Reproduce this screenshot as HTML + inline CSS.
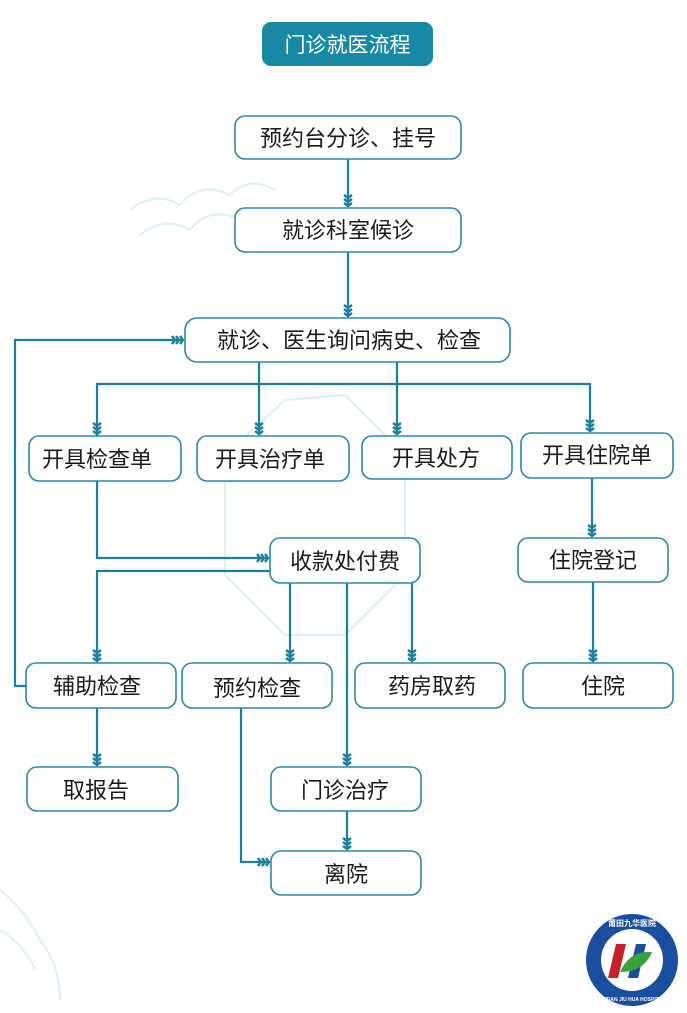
<!DOCTYPE html>
<html><head><meta charset="utf-8"><style>
html,body{margin:0;padding:0;background:#fff;}
body{width:687px;height:1013px;overflow:hidden;position:relative;}
svg{position:absolute;left:0;top:0;}
text{font-family:"Liberation Sans","Noto Sans CJK SC",sans-serif;}
</style></head><body>
<svg width="687" height="1013" viewBox="0 0 687 1013" xmlns="http://www.w3.org/2000/svg">
<defs>
<g id="ad"><path d="M-4,-9 L0,-6 L4,-9 M-4,-5 L0,-2 L4,-5 M-4,-1 L0,2 L4,-1" fill="none" stroke="#1b7f9c" stroke-width="2.4"/></g>
<g id="ar"><path d="M-9,-4 L-6,0 L-9,4 M-5,-4 L-2,0 L-5,4 M-1,-4 L2,0 L-1,4" fill="none" stroke="#1b7f9c" stroke-width="2.4"/></g>
</defs>
<g fill="none" stroke="#d6ecf2" stroke-width="2" opacity="0.8">
<path d="M130,210 q25,-20 50,-5 q20,-25 50,-10 q20,-20 45,-5"/>
<path d="M140,235 q25,-20 50,-5 q20,-25 50,-10"/>
<path d="M0,890 q25,20 40,50 q20,25 20,60"/>
<path d="M0,930 q25,15 35,40"/>
<path d="M285,400 l60,-5 l60,60 l0,120 l-60,60 l-60,0 l-60,-60 l0,-120 z"/>
</g>
<rect x="262" y="22" width="171" height="44" rx="9" fill="#1889a4"/>
<text x="347.5" y="52" font-size="21" fill="#fff" text-anchor="middle">门诊就医流程</text>
<g fill="none" stroke="#1b7f9c" stroke-width="2.2">
<path d="M348,159 V206"/>
<path d="M348,252 V316"/>
<path d="M97,436 V384 H590 V431"/>
<path d="M259,362 V434"/>
<path d="M397,362 V434"/>
<path d="M26,686 H15 V340 H183"/>
<path d="M97,481 V558 H268"/>
<path d="M270,571 H97 V661"/>
<path d="M290,583 V661"/>
<path d="M412,583 V661"/>
<path d="M347,583 V765"/>
<path d="M592,478 V536"/>
<path d="M593,582 V661"/>
<path d="M97,708 V765"/>
<path d="M347,811 V849"/>
<path d="M241,708 V862 H269"/>
</g>
<use href="#ad" x="348" y="204"/>
<use href="#ad" x="348" y="314"/>
<use href="#ad" x="97" y="432"/>
<use href="#ad" x="259" y="432"/>
<use href="#ad" x="397" y="432"/>
<use href="#ad" x="590" y="429"/>
<use href="#ad" x="592" y="534"/>
<use href="#ad" x="97" y="659"/>
<use href="#ad" x="290" y="659"/>
<use href="#ad" x="412" y="659"/>
<use href="#ad" x="593" y="659"/>
<use href="#ad" x="97" y="763"/>
<use href="#ad" x="347" y="763"/>
<use href="#ad" x="347" y="847"/>
<use href="#ar" x="181" y="340"/>
<use href="#ar" x="266" y="558"/>
<use href="#ar" x="267" y="862"/>
<g fill="#fff" stroke="#2a8aa5" stroke-width="1.6">
<rect x="235" y="116" width="226" height="43" rx="10"/>
<rect x="235" y="208" width="226" height="44" rx="10"/>
<rect x="185" y="318" width="325" height="44" rx="12"/>
<rect x="29" y="436" width="152" height="45" rx="10"/>
<rect x="197" y="436" width="152" height="45" rx="10"/>
<rect x="362" y="436" width="150" height="43" rx="10"/>
<rect x="521" y="433" width="152" height="45" rx="10"/>
<rect x="270" y="538" width="150" height="45" rx="10"/>
<rect x="518" y="538" width="150" height="44" rx="10"/>
<rect x="26" y="663" width="150" height="45" rx="10"/>
<rect x="182" y="663" width="150" height="45" rx="10"/>
<rect x="355" y="663" width="150" height="45" rx="10"/>
<rect x="523" y="663" width="150" height="45" rx="10"/>
<rect x="27" y="767" width="151" height="44" rx="10"/>
<rect x="271" y="767" width="150" height="44" rx="10"/>
<rect x="271" y="851" width="150" height="44" rx="10"/>
</g>
<g font-size="22" fill="#1a1a1a" text-anchor="middle">
<text x="348" y="146">预约台分诊、挂号</text>
<text x="348" y="238">就诊科室候诊</text>
<text x="349" y="348">就诊、医生询问病史、检查</text>
<text x="97" y="467">开具检查单</text>
<text x="270" y="467">开具治疗单</text>
<text x="436" y="466">开具处方</text>
<text x="597" y="463">开具住院单</text>
<text x="345" y="569">收款处付费</text>
<text x="593" y="568">住院登记</text>
<text x="97" y="694">辅助检查</text>
<text x="257" y="696">预约检查</text>
<text x="432" y="694">药房取药</text>
<text x="603" y="694">住院</text>
<text x="96" y="798">取报告</text>
<text x="345" y="798">门诊治疗</text>
<text x="346" y="882">离院</text>
</g>
<circle cx="632" cy="960" r="46" fill="#1a4fa0"/>
<circle cx="632" cy="960" r="31" fill="#fff"/>
<path d="M616,944 h10 l-8,34 h-10 z" fill="#c8202a"/>
<path d="M636,944 h10 l-8,34 h-10 z" fill="#1a4fa0"/>
<path d="M620,972 q10,-22 32,-20 q-8,20 -32,20 z" fill="#3aa23a"/>
<text x="632" y="926" font-size="8" fill="#fff" text-anchor="middle" font-weight="bold">莆田九华医院</text>
<text x="632" y="1001" font-size="5" fill="#fff" text-anchor="middle" font-weight="bold">PUTIAN JIU HUA HOSPITAL</text>
</svg>
</body></html>
